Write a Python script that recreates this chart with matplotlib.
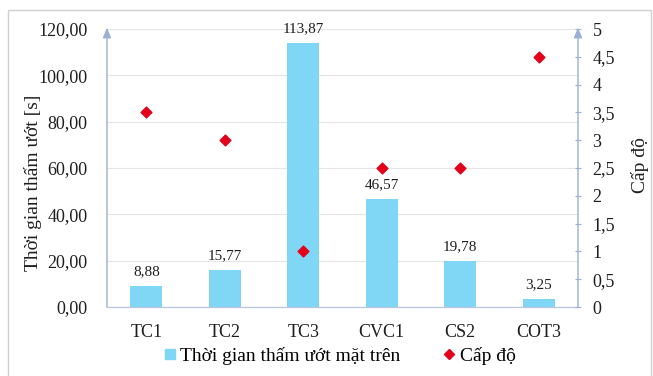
import matplotlib
matplotlib.use("Agg")
import matplotlib.pyplot as plt
from matplotlib.patches import Rectangle
from matplotlib.lines import Line2D

categories = ["TC1", "TC2", "TC3", "CVC1", "CS2", "COT3"]
wet_time = [8.88, 15.77, 113.87, 46.57, 19.78, 3.25]
level = [3.5, 3.0, 1.0, 2.5, 2.5, 4.5]
left_ticks = [0, 20, 40, 60, 80, 100, 120]
right_ticks = [0, 0.5, 1, 1.5, 2, 2.5, 3, 3.5, 4, 4.5, 5]

plt.rcParams["font.family"] = ["Liberation Serif", "DejaVu Serif"]

W, H = 653, 376
fig = plt.figure(figsize=(W / 100, H / 100), dpi=100)
fig.patches.append(Rectangle((8 / W, -0.05), (W - 10) / W, 1.05 - 10 / H,
                             transform=fig.transFigure, fill=False,
                             edgecolor="#D0D0D0", linewidth=1.0))

ax = fig.add_axes([107 / W, 1 - 307 / H, (578 - 107) / W, (307 - 29) / H])
ax2 = ax.twinx()

x = list(range(len(categories)))
bar_color = "#80D6F5"
axis_color = "#9BB0D4"
text_color = "#1E1E1E"

ax.bar(x, wet_time, width=0.41, color=bar_color, zorder=2)
for xi, v in zip(x, wet_time):
    ax.text(xi, v + 3.5, f"{v:.2f}".replace(".", ","), ha="center", va="bottom",
            fontsize=11, color=text_color)

ax.set_xlim(-0.5, len(categories) - 0.5)
ax.set_ylim(0, 120)
ax.set_yticks(left_ticks)
ax.set_yticklabels([f"{t:.2f}".replace(".", ",") for t in left_ticks])
ax.set_xticks(x)
ax.set_xticklabels(categories)
ax.grid(axis="y", color="#E4E4E4", linewidth=0.8, zorder=0)
ax.set_axisbelow(True)
ax.tick_params(axis="y", length=0, labelsize=13, pad=14, colors=text_color)
ax.tick_params(axis="x", length=0, labelsize=13, pad=12, colors=text_color)
ax.set_ylabel("Thời gian thấm ướt [s]", fontsize=14, color=text_color)
ax.yaxis.set_label_coords(-0.138, 0.446)

ax2.scatter(x, level, marker="D", s=30, color="#E3001B", zorder=3)
ax2.set_ylim(0, 5)
ax2.set_yticks(right_ticks)
ax2.set_yticklabels([f"{t:g}".replace(".", ",") for t in right_ticks])
ax2.tick_params(axis="y", length=5, width=0.8, direction="inout", labelsize=13,
                pad=8, labelcolor=text_color, color=axis_color)
ax2.set_ylabel("Cấp độ", fontsize=14, color=text_color)
ax2.yaxis.set_label_coords(1.112, 0.51)

for a in (ax, ax2):
    for s in a.spines.values():
        s.set_visible(False)
ax.spines["bottom"].set_visible(True)
ax.spines["bottom"].set_color("#B8C6DE")
ax.spines["bottom"].set_linewidth(0.9)

# axis lines with arrow heads
for xpos in (0.0, 1.0):
    ax.annotate("", xy=(xpos, 1.005), xytext=(xpos, 0.0),
                xycoords="axes fraction", textcoords="axes fraction",
                arrowprops=dict(arrowstyle="-|>,head_length=0.6,head_width=0.25",
                                color=axis_color, linewidth=1.0,
                                shrinkA=0, shrinkB=0), zorder=4)

handles = [
    Line2D([], [], marker="s", linestyle="none", color=bar_color, markersize=7),
    Line2D([], [], marker="D", linestyle="none", color="#E3001B", markersize=5),
]
fig.legend(handles, ["Thời gian thấm ướt mặt trên", "Cấp độ"], loc="center",
           bbox_to_anchor=(338 / W, 1 - 356 / H), ncol=2, frameon=False,
           fontsize=14, handletextpad=0.05, columnspacing=2.0, handlelength=1.0)

fig.savefig("out.png", dpi=100)
